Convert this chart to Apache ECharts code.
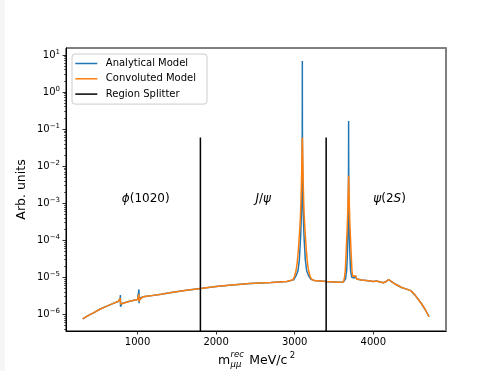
<!DOCTYPE html>
<html>
<head>
<meta charset="utf-8">
<script src="https://cdn.jsdelivr.net/npm/echarts@6/dist/echarts.min.js"></script>
<style>
html, body { margin: 0; padding: 0; background: #ffffff; }
#chart { width: 492px; height: 371px; }
</style>
</head>
<body>
<div id="chart"></div>
<script>
// Dimuon recoil-mass lineshape: analytical model vs. resolution-convoluted model
const analyticalMass = [
  303, 350, 400, 440, 520, 610, 700, 760, 775, 780, 782, 784, 788, 800, 820, 900,
  1000, 1012, 1018, 1020, 1024, 1040, 1075, 1160, 1300, 1450, 1600, 1800, 2000, 2200,
  2430, 2700, 2900, 2987, 3017, 3042, 3059, 3069, 3077, 3085, 3090, 3094, 3096, 3096.7,
  3097, 3097.3, 3098, 3100, 3104, 3109, 3117, 3125, 3135, 3152, 3177, 3207, 3250, 3400,
  3550, 3620, 3646, 3661, 3669, 3676, 3680, 3683, 3685, 3685.5, 3686, 3686.5, 3687, 3689,
  3692, 3696, 3703, 3711, 3726, 3745, 3760, 3773, 3788, 3850, 3936, 4000, 4040, 4060,
  4127, 4160, 4195, 4230, 4276, 4361, 4424, 4445, 4480, 4531, 4616, 4660, 4709
];
const analyticalValue = [
  7.5e-7, 8.7e-7, 1.0e-6, 1.1e-6, 1.37e-6, 1.67e-6, 2.0e-6, 2.25e-6, 2.45e-6, 2.8e-6, 3.3e-6, 1.6e-6, 1.8e-6, 1.95e-6, 2.0e-6, 2.25e-6,
  2.5e-6, 2.75e-6, 4.7e-6, 2.0e-6, 2.4e-6, 2.8e-6, 3.0e-6, 3.15e-6, 3.5e-6, 3.95e-6, 4.4e-6, 5.0e-6, 5.6e-6, 6.2e-6,
  6.8e-6, 7.2e-6, 7.7e-6, 8.5e-6, 1.1e-5, 1.5e-5, 3.0e-5, 7.0e-5, 1.5e-4, 5.0e-4, 1.5e-3, 1.0e-2, 0.1, 1.0,
  6.9, 1.0, 0.1, 1.0e-2, 1.5e-3, 5.0e-4, 1.5e-4, 7.0e-5, 3.0e-5, 1.5e-5, 1.1e-5, 8.8e-6, 8.2e-6, 7.7e-6,
  7.3e-6, 7.5e-6, 9.0e-6, 1.5e-5, 3.5e-5, 1.2e-4, 4.0e-4, 1.5e-3, 1.0e-2, 0.03, 0.166, 0.03, 1.0e-2, 1.5e-3,
  4.0e-4, 1.2e-4, 3.5e-5, 1.5e-5, 1.0e-5, 9.3e-6, 9.6e-6, 1.1e-5, 9.0e-6, 8.4e-6, 8.1e-6, 7.7e-6, 7.9e-6, 7.6e-6,
  7.1e-6, 7.6e-6, 8.7e-6, 7.6e-6, 6.6e-6, 5.3e-6, 4.8e-6, 5.1e-6, 4.3e-6, 3.3e-6, 1.9e-6, 1.35e-6, 8.6e-7
];

const convolutedMass = [
  303, 350, 400, 440, 520, 610, 700, 760, 775, 780, 782, 785, 790, 800, 820, 900,
  1000, 1012, 1018, 1021, 1026, 1040, 1075, 1160, 1300, 1450, 1600, 1800, 2000, 2200,
  2430, 2700, 2900, 2977, 2997, 3017, 3032, 3045, 3055, 3064, 3072, 3079, 3085, 3090, 3094,
  3097, 3100, 3104, 3109, 3115, 3122, 3130, 3139, 3149, 3162, 3177, 3197, 3217, 3250, 3400,
  3550, 3620, 3634, 3644, 3653, 3661, 3668, 3674, 3679, 3683, 3686, 3689, 3693, 3698, 3704,
  3711, 3719, 3728, 3738, 3750, 3760, 3773, 3788, 3850, 3936, 4000, 4040, 4060,
  4127, 4160, 4195, 4230, 4276, 4361, 4424, 4445, 4480, 4531, 4616, 4660, 4709
];
const convolutedValue = [
  7.5e-7, 8.7e-7, 1.0e-6, 1.1e-6, 1.37e-6, 1.67e-6, 2.0e-6, 2.25e-6, 2.45e-6, 2.75e-6, 3.0e-6, 1.9e-6, 1.85e-6, 1.95e-6, 2.0e-6, 2.25e-6,
  2.5e-6, 2.75e-6, 3.5e-6, 2.2e-6, 2.5e-6, 2.8e-6, 3.0e-6, 3.15e-6, 3.5e-6, 3.95e-6, 4.4e-6, 5.0e-6, 5.6e-6, 6.2e-6,
  6.8e-6, 7.2e-6, 7.7e-6, 8.6e-6, 1.05e-5, 1.5e-5, 2.5e-5, 5.0e-5, 1.0e-4, 2.0e-4, 4.0e-4, 1.0e-3, 3.0e-3, 1.0e-2, 3.0e-2,
  5.9e-2, 3.0e-2, 1.0e-2, 3.0e-3, 1.0e-3, 4.0e-4, 2.0e-4, 1.0e-4, 5.0e-5, 2.5e-5, 1.5e-5, 1.05e-5, 8.8e-6, 8.2e-6, 7.7e-6,
  7.3e-6, 7.5e-6, 1.0e-5, 1.6e-5, 4.0e-5, 1.0e-4, 2.2e-4, 5.0e-4, 1.3e-3, 3.0e-3, 5.5e-3, 3.0e-3, 1.3e-3, 5.0e-4, 2.2e-4,
  1.0e-4, 4.0e-5, 1.6e-5, 1.05e-5, 9.3e-6, 9.6e-6, 1.1e-5, 9.0e-6, 8.4e-6, 8.1e-6, 7.7e-6, 7.9e-6, 7.6e-6,
  7.1e-6, 7.6e-6, 8.7e-6, 7.6e-6, 6.6e-6, 5.3e-6, 4.8e-6, 5.1e-6, 4.3e-6, 3.3e-6, 1.9e-6, 1.35e-6, 8.6e-7
];

// Boundaries between the three fit regions
const splitterMass = [1800, 3400];
const splitterTop = 0.059;

// Resonance region captions (rich text: {i|...} is italic)
const regionLabels = ['{i|ϕ}(1020)', '{i|J}/{i|ψ}', '{i|ψ}(2{i|S})'];
const regionMass = [800, 2500, 4000];
const regionLevel = 1e-3;

// Axes
const xMin = 90, xMax = 4925;
const xTicks = [1000, 2000, 3000, 4000];
const yMin = 3.55e-7, yMax = 15.4;
const yTicks = [1e-6, 1e-5, 1e-4, 1e-3, 1e-2, 1e-1, 1e0, 1e1];

const FONT = 'DejaVu Sans';
const BLUE = '#1f77b4', ORANGE = '#ff7f0e';

const yMinorTicks = [];
for (let e = -7; e <= 1; e++) {
  for (let m = 2; m <= 9; m++) {
    const v = m * Math.pow(10, e);
    if (v >= yMin && v <= yMax) yMinorTicks.push(v);
  }
}

const zip = (xs, ys) => xs.map((x, i) => [x, ys[i]]);

function expLabel(v) {
  const e = Math.round(Math.log10(v));
  return '10{s|' + (e < 0 ? '\u2212' + (-e) : String(e)) + '}';
}

const chart = echarts.init(document.getElementById('chart'), null, { renderer: 'canvas' });

const splitterSeries = splitterMass.map(m => ({
  name: 'Region Splitter',
  type: 'line',
  data: [[m, yMin], [m, splitterTop]],
  symbol: 'none',
  lineStyle: { color: '#000000', width: 1.5 },
  itemStyle: { color: '#000000' },
  silent: true,
  z: 4
}));

chart.setOption({
  animation: false,
  backgroundColor: '#ffffff',
  grid: {
    left: 66, right: 46, top: 48, bottom: 40,
    show: true, borderColor: '#000000', borderWidth: 1, backgroundColor: 'transparent'
  },
  legend: {
    orient: 'vertical',
    left: 72, top: 54,
    data: [
      { name: 'Analytical Model', icon: 'rect' },
      { name: 'Convoluted Model', icon: 'rect' },
      { name: 'Region Splitter', icon: 'rect' }
    ],
    itemWidth: 22, itemHeight: 1.5, itemGap: 5.3,
    padding: [4.5, 11, 5, 3.3],
    backgroundColor: 'rgba(255,255,255,0.8)',
    borderColor: '#cccccc', borderWidth: 1, borderRadius: 3,
    itemStyle: { borderWidth: 0 },
    textStyle: { fontFamily: FONT, fontSize: 10, color: '#000000', lineHeight: 10, padding: [0, 0, 0, 3.5] }
  },
  xAxis: {
    type: 'value', min: xMin, max: xMax,
    axisLine: { show: true, lineStyle: { color: '#000000', width: 1 } },
    axisTick: { show: true, length: 3.5, lineStyle: { color: '#000000', width: 0.8 }, customValues: xTicks },
    axisLabel: { customValues: xTicks, formatter: v => String(v), fontFamily: FONT, fontSize: 10, color: '#000000', margin: 6 },
    splitLine: { show: false }
  },
  yAxis: [{
    type: 'log', logBase: 10, min: yMin, max: yMax,
    axisLine: { show: true, lineStyle: { color: '#000000', width: 1 } },
    axisTick: { show: true, length: 3.5, lineStyle: { color: '#000000', width: 0.8 }, customValues: yTicks },
    axisLabel: {
      customValues: yTicks, margin: 6,
      formatter: v => expLabel(v),
      fontFamily: FONT, fontSize: 10, color: '#000000', lineHeight: 13,
      rich: {
        s: { fontFamily: FONT, fontSize: 7, color: '#000000', verticalAlign: 'top', lineHeight: 7 }
      }
    },
    splitLine: { show: false }
  }, {
    type: 'log', logBase: 10, min: yMin, max: yMax, position: 'left',
    axisLine: { show: false },
    axisTick: { show: true, length: 2, lineStyle: { color: '#000000', width: 0.6 }, customValues: yMinorTicks },
    axisLabel: { show: false },
    splitLine: { show: false }
  }, {
    // right-hand frame edge
    type: 'log', logBase: 10, min: yMin, max: yMax, position: 'right',
    axisLine: { show: true, lineStyle: { color: '#808080', width: 2 } },
    axisTick: { show: false },
    axisLabel: { show: false },
    splitLine: { show: false }
  }],
  series: [{
    name: 'Analytical Model',
    type: 'line',
    data: zip(analyticalMass, analyticalValue),
    symbol: 'none',
    lineStyle: { color: BLUE, width: 1.5 },
    itemStyle: { color: BLUE },
    z: 2
  }, {
    name: 'Convoluted Model',
    type: 'line',
    data: zip(convolutedMass, convolutedValue),
    symbol: 'none',
    lineStyle: { color: ORANGE, width: 1.5 },
    itemStyle: { color: ORANGE },
    z: 3
  }].concat(splitterSeries)
});

// Captions placed at data coordinates, plus the axis titles
const graphics = regionLabels.map((txt, i) => {
  const p = chart.convertToPixel({ xAxisIndex: 0, yAxisIndex: 0 }, [regionMass[i], regionLevel]);
  return {
    type: 'text', x: p[0], y: p[1] - 4.3, silent: true,
    style: {
      text: txt, fill: '#000000', fontFamily: FONT, fontSize: 12,
      align: 'left', verticalAlign: 'middle',
      rich: { i: { fontFamily: FONT, fontSize: 12, fontStyle: 'italic', fill: '#000000' } }
    }
  };
});

graphics.push(
  { type: 'rect', shape: { x: 0, y: 0, width: 5, height: 371 }, style: { fill: '#f6f6f6' }, silent: true, z: -10 },
  { type: 'text', x: 22, y: 189.5, rotation: Math.PI / 2, silent: true,
    style: { text: 'Arb. units', fill: '#000000', fontFamily: FONT, fontSize: 12.5, align: 'center', verticalAlign: 'middle' } },
  { type: 'text', x: 218, y: 361, silent: true,
    style: { text: 'm', fill: '#000000', fontFamily: FONT, fontSize: 12.5, align: 'left', verticalAlign: 'middle' } },
  { type: 'text', x: 230.5, y: 354.4, silent: true,
    style: { text: 'rec', fill: '#000000', fontFamily: FONT, fontSize: 8.5, fontStyle: 'italic', align: 'left', verticalAlign: 'middle' } },
  { type: 'text', x: 230.5, y: 364.4, silent: true,
    style: { text: 'μμ', fill: '#000000', fontFamily: FONT, fontSize: 8.5, fontStyle: 'italic', align: 'left', verticalAlign: 'middle' } },
  { type: 'text', x: 249.3, y: 361, silent: true,
    style: { text: 'MeV/c', fill: '#000000', fontFamily: FONT, fontSize: 12.5, align: 'left', verticalAlign: 'middle' } },
  { type: 'text', x: 289.8, y: 355.4, silent: true,
    style: { text: '2', fill: '#000000', fontFamily: FONT, fontSize: 8.5, align: 'left', verticalAlign: 'middle' } }
);

chart.setOption({ graphic: graphics });
</script>
</body>
</html>
